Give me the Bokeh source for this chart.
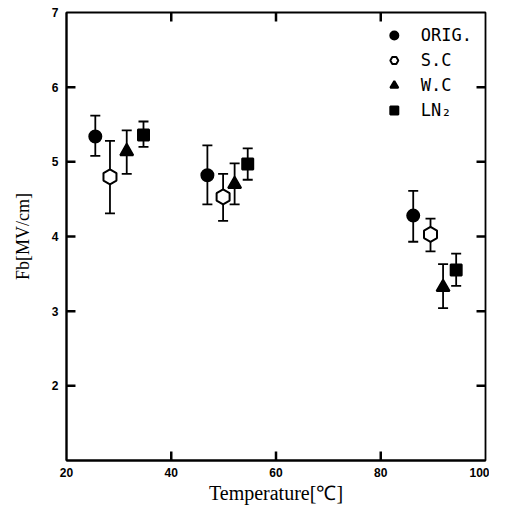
import numpy as np
from bokeh.plotting import figure
from bokeh.models import (Range1d, FixedTicker, Whisker, ColumnDataSource,
                          Legend, LegendItem)
from bokeh.embed import file_html
from bokeh.resources import INLINE

# ---- data ----
orig_t = [25.5, 46.9, 86.2]
orig_v = [5.34, 4.82, 4.28]
orig_lo = [5.08, 4.43, 3.93]
orig_hi = [5.62, 5.22, 4.61]

sc_t = [28.3, 49.9, 89.5]
sc_v = [4.80, 4.53, 4.03]
sc_lo = [4.31, 4.21, 3.80]
sc_hi = [5.28, 4.84, 4.24]

wc_t = [31.5, 52.1, 91.9]
wc_v = [5.14, 4.70, 3.32]
wc_lo = [4.84, 4.43, 3.04]
wc_hi = [5.42, 4.98, 3.63]

ln_t = [34.7, 54.6, 94.4]
ln_v = [5.36, 4.97, 3.55]
ln_lo = [5.20, 4.76, 3.34]
ln_hi = [5.54, 5.18, 3.77]

x_ticks = [20, 40, 60, 80, 100]
y_ticks = [2, 3, 4, 5, 6, 7]
x_inner_ticks = [40, 60, 80]
y_inner_ticks = [2, 3, 4, 5, 6]

X0, X1, Y0, Y1 = 20, 100, 1, 7

p = figure(width=489, height=506, output_backend="svg", toolbar_location=None,
           x_range=Range1d(X0, X1), y_range=Range1d(Y0, Y1))
p.grid.visible = False
p.min_border_left = 66
p.min_border_right = 4
p.min_border_top = 12
p.min_border_bottom = 44
p.outline_line_color = "black"
p.outline_line_width = 1.8

for ax in [p.xaxis[0], p.yaxis[0]]:
    ax.axis_line_width = 2
    ax.axis_line_color = "black"
    ax.major_tick_in = 0
    ax.major_tick_out = 0
    ax.minor_tick_line_color = None
    ax.major_label_text_font = "Liberation Sans"
    ax.major_label_text_font_style = "bold"
    ax.major_label_text_font_size = "12px"
    ax.major_label_text_color = "black"
    ax.axis_label_text_font = "Liberation Serif"
    ax.axis_label_text_font_style = "normal"
    ax.axis_label_text_color = "black"

p.xaxis.ticker = FixedTicker(ticks=x_ticks)
p.yaxis.ticker = FixedTicker(ticks=y_ticks)
p.xaxis.major_label_standoff = 7
p.yaxis.major_label_standoff = 8
p.xaxis.axis_label = "Temperature[℃]"
p.yaxis.axis_label = "Fb[MV/cm]"
p.xaxis.axis_label_text_font_size = "20px"
p.yaxis.axis_label_text_font_size = "18px"
p.xaxis.axis_label_standoff = 2
p.yaxis.axis_label_standoff = 16

# inward tick marks on all four sides
tx = 9 * (X1 - X0) / 420.0
ty = 9 * (Y1 - Y0) / 446.0
tick_style = dict(line_color="black", line_width=2.5)
p.segment(x0=x_inner_ticks, y0=[Y0] * 3, x1=x_inner_ticks, y1=[Y0 + ty] * 3, **tick_style)
p.segment(x0=x_inner_ticks, y0=[Y1] * 3, x1=x_inner_ticks, y1=[Y1 - ty] * 3, **tick_style)
p.segment(x0=[X0] * 5, y0=y_inner_ticks, x1=[X0 + tx] * 5, y1=y_inner_ticks, **tick_style)
p.segment(x0=[X1] * 5, y0=y_inner_ticks, x1=[X1 - tx] * 5, y1=y_inner_ticks, **tick_style)

series = [
    ("ORIG.", orig_t, orig_v, orig_lo, orig_hi, "circle", 12, "black"),
    ("S.C", sc_t, sc_v, sc_lo, sc_hi, "hex", 15, "white"),
    ("W.C", wc_t, wc_v, wc_lo, wc_hi, "triangle", 13, "black"),
    ("LN₂", ln_t, ln_v, ln_lo, ln_hi, "square", 11, "black"),
]

items = []
for name, t, v, lo, hi, mk, sz, fill in series:
    src = ColumnDataSource(dict(x=t, y=v, lo=lo, hi=hi))
    w = Whisker(source=src, base="x", lower="lo", upper="hi", dimension="height",
                line_color="black", line_width=1.8)
    w.upper_head.size = 10
    w.lower_head.size = 10
    w.upper_head.line_width = 1.8
    w.lower_head.line_width = 1.8
    p.add_layout(w)
    angle = np.pi / 2 if mk == "hex" else 0
    r = p.scatter("x", "y", source=src, marker=mk, size=sz, fill_color=fill,
                  line_color="black", line_width=2, angle=angle)
    items.append(LegendItem(label=name, renderers=[r]))

leg = Legend(items=items, location="top_right", border_line_alpha=0,
             background_fill_alpha=0, label_text_font="DejaVu Sans Mono",
             label_text_font_size="17px", label_text_color="black",
             spacing=5, glyph_width=22, label_standoff=16, margin=7, padding=6)
p.add_layout(leg)

open("out.html", "w").write(file_html(p, INLINE))
